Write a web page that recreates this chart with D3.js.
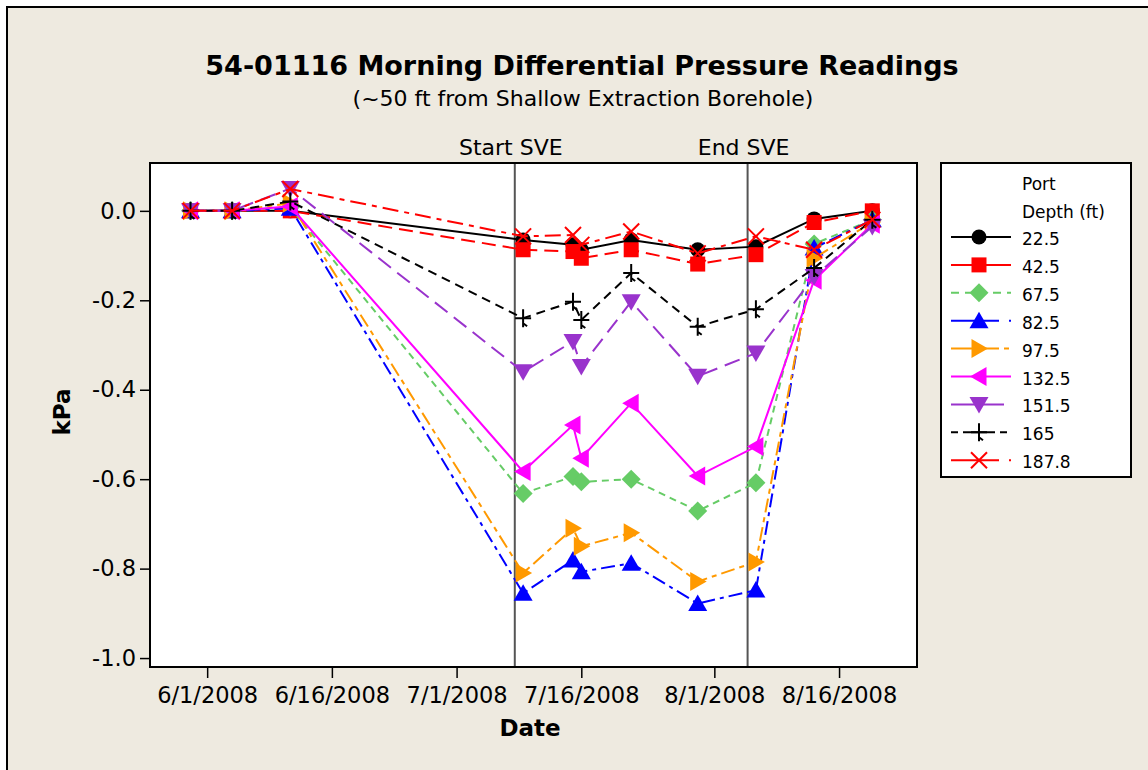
<!DOCTYPE html>
<html>
<head>
<meta charset="utf-8">
<script src="https://cdn.jsdelivr.net/npm/d3@7"></script>
<style>
  body { margin: 0; background: #fff; }
  svg text { font-family: "DejaVu Sans", Verdana, sans-serif; fill: #000; }
</style>
</head>
<body>
<svg id="chart" width="1148" height="770"></svg>
<script>
// reading dates
const dates = ["2008-05-30", "2008-06-04", "2008-06-11", "2008-07-09", "2008-07-15",
  "2008-07-16", "2008-07-22", "2008-07-30", "2008-08-06", "2008-08-13", "2008-08-20"];

// kPa per port depth
const d22_5 = [0, 0, 0, -0.065, -0.076, -0.087, -0.065, -0.087, -0.08, -0.018, 0];
const d42_5 = [0, 0, 0, -0.087, -0.091, -0.106, -0.087, -0.119, -0.098, -0.026, 0];
const d67_5 = [0, 0, 0.008, -0.632, -0.594, -0.606, -0.6, -0.671, -0.608, -0.074, -0.02];
const d82_5 = [0, 0, 0.006, -0.855, -0.781, -0.807, -0.788, -0.878, -0.848, -0.083, -0.02];
const d97_5 = [0, 0, 0.017, -0.81, -0.71, -0.75, -0.72, -0.829, -0.785, -0.106, -0.025];
const d132_5 = [0, 0, 0.01, -0.583, -0.479, -0.553, -0.43, -0.593, -0.527, -0.155, -0.03];
const d151_5 = [0, 0, 0.05, -0.36, -0.292, -0.348, -0.203, -0.37, -0.318, -0.147, -0.035];
const d165 = [0, 0, 0.021, -0.24, -0.203, -0.244, -0.139, -0.259, -0.22, -0.128, -0.02];
const d187_8 = [0, 0, 0.049, -0.057, -0.054, -0.076, -0.046, -0.095, -0.057, -0.087, -0.02];

const depths = ["22.5", "42.5", "67.5", "82.5", "97.5", "132.5", "151.5", "165", "187.8"];
const seriesValues = [d22_5, d42_5, d67_5, d82_5, d97_5, d132_5, d151_5, d165, d187_8];

const xTickLabels = ["6/1/2008", "6/16/2008", "7/1/2008", "7/16/2008", "8/1/2008", "8/16/2008"];
const yTicks = [0, -0.2, -0.4, -0.6, -0.8, -1.0];

const svePhase = [
  { label: "Start SVE", date: "2008-07-08" },
  { label: "End SVE", date: "2008-08-05" }
];

// styles
const colors = ["#000000", "#ff0000", "#66cc66", "#0000ff", "#ff9900", "#ff00ff", "#9933cc", "#000000", "#ff0000"];
const dashes = [null, "14,7", "7,5", "14,5,4,5", "14,5,5,5", null, "16,8", "9,6", "16,6,5,6"];
const legendDashes = [null, null, "8,6", "48,10,8,100", "48,5,5,4,5,100", null, "53,100", "7,5,32,5,7", "48,10,8,100"];
const shapes = ["circle", "square", "diamond", "up", "right", "left", "down", "plus", "cross"];

const parseDay = d3.timeParse("%Y-%m-%d");
const parseTick = d3.timeParse("%m/%d/%Y");

const plot = { left: 150, top: 163, right: 917, bottom: 667 };

const svg = d3.select("#chart");

// page frame
svg.append("rect")
  .attr("x", 7).attr("y", 7)
  .attr("width", 1160).attr("height", 780)
  .attr("fill", "#eeeae0")
  .attr("stroke", "#000")
  .attr("stroke-width", 2);

const x = d3.scaleTime()
  .domain([new Date(2008, 4, 25, 3), new Date(2008, 7, 25, 9)])
  .range([plot.left, plot.right]);

const y = d3.scaleLinear()
  .domain([-1.02, 0.107])
  .range([plot.bottom, plot.top]);

svg.append("rect")
  .attr("x", plot.left).attr("y", plot.top)
  .attr("width", plot.right - plot.left)
  .attr("height", plot.bottom - plot.top)
  .attr("fill", "#fff");

// axes
const xAxis = svg.append("g")
  .attr("transform", `translate(0,${plot.bottom})`)
  .call(d3.axisBottom(x)
    .tickValues(xTickLabels.map(parseTick))
    .tickFormat((d, i) => xTickLabels[i])
    .tickSize(11).tickSizeOuter(0).tickPadding(9));

const yAxis = svg.append("g")
  .attr("transform", `translate(${plot.left},0)`)
  .call(d3.axisLeft(y)
    .tickValues(yTicks)
    .tickFormat(d => d.toFixed(1))
    .tickSize(10).tickSizeOuter(0).tickPadding(4));

[xAxis, yAxis].forEach(g => {
  g.select(".domain").remove();
  g.selectAll(".tick line").attr("stroke", "#000").attr("stroke-width", 1.5);
  g.selectAll(".tick text")
    .attr("font-size", 22.5)
    .attr("font-family", "'DejaVu Sans', Verdana, sans-serif")
    .attr("fill", "#000");
});

// SVE reference lines
svePhase.forEach(p => {
  const px = x(parseDay(p.date));
  svg.append("line")
    .attr("x1", px).attr("x2", px)
    .attr("y1", plot.top).attr("y2", plot.bottom)
    .attr("stroke", "#555").attr("stroke-width", 2);
  svg.append("text")
    .attr("x", px - 4).attr("y", 155)
    .attr("text-anchor", "middle")
    .attr("font-size", 22)
    .text(p.label);
});

function markerPath(type) {
  switch (type) {
    case "circle": return "M-7.5,0A7.5,7.5 0 1,0 7.5,0A7.5,7.5 0 1,0 -7.5,0Z";
    case "square": return "M-7.5,-7.5H7.5V7.5H-7.5Z";
    case "diamond": return "M0,-9.5L9.5,0L0,9.5L-9.5,0Z";
    case "up": return "M0,-9L9.5,7.5H-9.5Z";
    case "down": return "M0,9L9.5,-7.5H-9.5Z";
    case "right": return "M9,0L-7.5,-9.5V9.5Z";
    case "left": return "M-9,0L7.5,-9.5V9.5Z";
    case "plus": return "M-8,0H8M0,-9V9M0,5L4,8";
    case "cross": return "M-8,-8L8,8M-8,8L8,-8";
  }
}

function drawMarker(g, type, color) {
  const stroked = type === "plus" || type === "cross";
  return g.append("path")
    .attr("d", markerPath(type))
    .attr("fill", stroked ? "none" : color)
    .attr("stroke", stroked ? color : "none")
    .attr("stroke-width", stroked ? 2 : 0);
}

const line = d3.line()
  .x(d => x(d.date))
  .y(d => y(d.v));

const series = depths.map((label, i) => ({
  label,
  color: colors[i],
  dash: dashes[i],
  legendDash: legendDashes[i],
  shape: shapes[i],
  points: dates.map((d, j) => ({ date: parseDay(d), v: seriesValues[i][j] }))
}));

svg.append("defs").append("clipPath").attr("id", "plotclip")
  .append("rect")
  .attr("x", plot.left).attr("y", plot.top)
  .attr("width", plot.right - plot.left)
  .attr("height", plot.bottom - plot.top);

const layer = svg.append("g").attr("clip-path", "url(#plotclip)");

series.forEach(s => {
  const g = layer.append("g");
  g.append("path")
    .datum(s.points)
    .attr("d", line)
    .attr("fill", "none")
    .attr("stroke", s.color)
    .attr("stroke-width", 2)
    .attr("stroke-dasharray", s.dash);
  s.points.forEach(p => {
    drawMarker(g, s.shape, s.color)
      .attr("transform", `translate(${x(p.date)},${y(p.v)})`);
  });
});

// plot frame
svg.append("rect")
  .attr("x", plot.left).attr("y", plot.top)
  .attr("width", plot.right - plot.left)
  .attr("height", plot.bottom - plot.top)
  .attr("fill", "none")
  .attr("stroke", "#000")
  .attr("stroke-width", 2);

// titles
svg.append("text")
  .attr("x", 582).attr("y", 75)
  .attr("text-anchor", "middle")
  .attr("font-size", 27).attr("font-weight", "bold")
  .text("54-01116 Morning Differential Pressure Readings");

svg.append("text")
  .attr("x", 583).attr("y", 106)
  .attr("text-anchor", "middle")
  .attr("font-size", 22)
  .text("(~50 ft from Shallow Extraction Borehole)");

svg.append("text")
  .attr("x", 530).attr("y", 736)
  .attr("text-anchor", "middle")
  .attr("font-size", 23).attr("font-weight", "bold")
  .text("Date");

svg.append("text")
  .attr("transform", "translate(70,412) rotate(-90)")
  .attr("text-anchor", "middle")
  .attr("font-size", 23).attr("font-weight", "bold")
  .text("kPa");

// legend
const legend = svg.append("g").attr("transform", "translate(941,163)");
legend.append("rect")
  .attr("width", 190).attr("height", 314)
  .attr("fill", "#fff")
  .attr("stroke", "#000").attr("stroke-width", 2);
legend.append("text").attr("x", 81).attr("y", 27).attr("font-size", 17).text("Port");
legend.append("text").attr("x", 81).attr("y", 55).attr("font-size", 17).text("Depth (ft)");

series.forEach((s, i) => {
  const row = legend.append("g").attr("transform", `translate(0,${74 + i * 27.9})`);
  row.append("line")
    .attr("x1", 10).attr("x2", 70)
    .attr("stroke", s.color).attr("stroke-width", 2)
    .attr("stroke-dasharray", s.legendDash);
  drawMarker(row, s.shape, s.color).attr("transform", "translate(38,0)");
  row.append("text")
    .attr("x", 81).attr("y", 8)
    .attr("font-size", 17)
    .text(s.label);
});
</script>
</body>
</html>
